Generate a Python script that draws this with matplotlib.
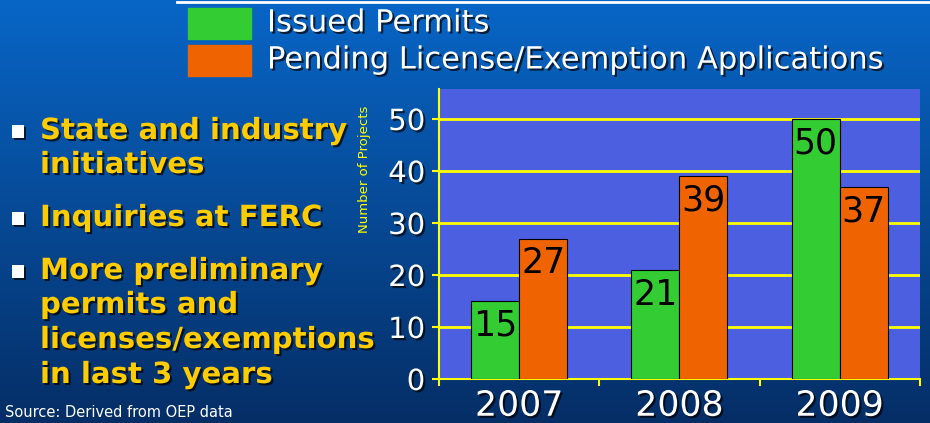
import numpy as np
import matplotlib.pyplot as plt
import matplotlib.patheffects as pe

years = ['2007', '2008', '2009']
issued = [15, 21, 50]
pending = [27, 39, 37]
yticks = [0, 10, 20, 30, 40, 50]
legend_labels = ['Issued Permits', 'Pending License/Exemption Applications']
bullets = [['State and industry', 'initiatives'],
           ['Inquiries at FERC'],
           ['More preliminary', 'permits and', 'licenses/exemptions', 'in last 3 years']]

green = '#33cc33'
orange = '#f06400'
yellow = '#ffff00'
shadow = [pe.withSimplePatchShadow(offset=(1.5, -1.5), shadow_rgbFace='black', alpha=0.7)]

fig = plt.figure(figsize=(9.3, 4.23), dpi=100)

# background gradient
bg = fig.add_axes([0, 0, 1, 1], zorder=-10)
grad = np.linspace(0, 1, 256).reshape(-1, 1)
top = np.array([0.03, 0.40, 0.78])
bot = np.array([0.02, 0.18, 0.40])
img = top + (bot - top) * grad[:, :, None]
bg.imshow(img, aspect='auto', extent=[0, 1, 0, 1])
bg.plot([177 / 930, 1], [0.996, 0.996], color='white', lw=2)
bg.set_xlim(0, 1)
bg.set_ylim(0, 1)
bg.axis('off')

# bar chart
ax = fig.add_axes([0.472, 0.104, 0.517, 0.686])
ax.set_facecolor('#4c5fe0')
x = np.arange(len(years))
w = 0.3
b1 = ax.bar(x - w / 2, issued, w, color=green, edgecolor='black', linewidth=0.8, zorder=3)
b2 = ax.bar(x + w / 2, pending, w, color=orange, edgecolor='black', linewidth=0.8, zorder=3)
for bars in (b1, b2):
    for r in bars:
        ax.text(r.get_x() + r.get_width() / 2, r.get_height() - 1.5, str(int(r.get_height())),
                ha='center', va='top', fontsize=25, color='black', zorder=4)

ax.set_xlim(-0.5, 2.5)
ax.set_ylim(0, 55.8)
ax.set_yticks(yticks)
ax.set_yticklabels([str(v) for v in yticks], color='white', fontsize=21, path_effects=shadow)
ax.yaxis.grid(True, color=yellow, lw=2, zorder=1)
ax.set_xticks(x)
ax.set_xticklabels(years, color='white', fontsize=25, path_effects=shadow)
ax.set_xticks([-0.5, 0.5, 1.5, 2.5], minor=True)
ax.tick_params(axis='x', which='major', length=0, pad=7)
ax.tick_params(axis='x', which='minor', length=5, color=yellow, width=1.5)
ax.tick_params(axis='y', length=5, color=yellow, width=1.5, pad=5)
for s in ['top', 'right']:
    ax.spines[s].set_visible(False)
for s in ['left', 'bottom']:
    ax.spines[s].set_color(yellow)
    ax.spines[s].set_linewidth(1.5)

fig.text(0.392, 0.60, 'Number of Projects', rotation=90, color=yellow, fontsize=9.5,
         ha='center', va='center')

# legend
for i, (lab, c) in enumerate(zip(legend_labels, [green, orange])):
    y0 = 423 - (8 + 37 * i)
    fig.patches.append(plt.Rectangle((188 / 930, (y0 - 31) / 423), 63 / 930, 31 / 423,
                                     transform=fig.transFigure, color=c))
    fig.text(267 / 930, (y0 - 15) / 423, lab, color='white', fontsize=22,
             ha='left', va='center', path_effects=shadow)

# bullet text
lines_y = [[131, 165], [218], [271, 305, 340, 375]]
for group, ys in zip(bullets, lines_y):
    fig.text(18 / 930, 1 - ys[0] / 423, '\u25aa', color='white', fontsize=18,
             ha='center', va='center', path_effects=shadow)
    for t, yy in zip(group, ys):
        fig.text(40 / 930, 1 - yy / 423, t, color='#ffcc00', fontsize=21, fontweight='bold',
                 ha='left', va='center', path_effects=shadow)

fig.text(5 / 930, 1 - 412 / 423, 'Source: Derived from OEP data', color='white',
         fontsize=10.5, ha='left', va='center')

fig.savefig('out.png', dpi=100)
